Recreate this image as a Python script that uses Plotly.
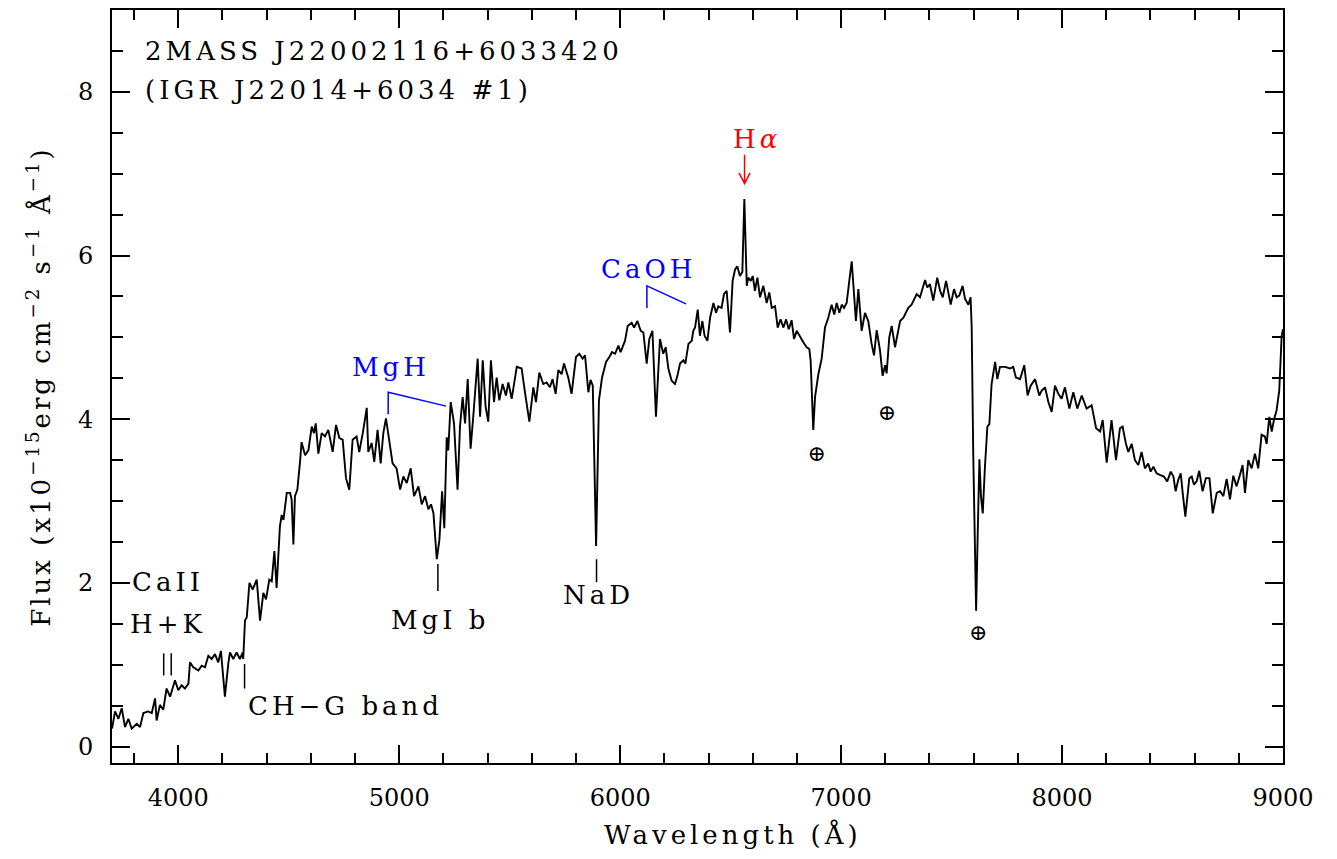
import plotly.graph_objects as go

# Optical spectrum of 2MASS J22002116+6033420
wavelength = [
    3700, 3714, 3729, 3744, 3759, 3774, 3789, 3812, 3827, 3842, 3864, 3880, 3895, 3902, 3917,
    3932, 3947, 3963, 3985, 4000, 4015, 4030, 4046, 4053, 4068, 4091, 4106, 4121, 4136, 4151,
    4166, 4181, 4193, 4211, 4227, 4234, 4249, 4264, 4279, 4291, 4294, 4302, 4310, 4322, 4337,
    4355, 4370, 4385, 4397, 4412, 4423, 4435, 4445, 4460, 4468, 4476, 4491, 4506, 4513, 4521,
    4528, 4539, 4551, 4558, 4574, 4589, 4604, 4614, 4622, 4634, 4649, 4664, 4679, 4699, 4714,
    4729, 4744, 4759, 4774, 4789, 4807, 4819, 4835, 4853, 4860, 4875, 4887, 4902, 4916, 4928,
    4940, 4955, 4970, 4988, 5004, 5019, 5034, 5052, 5067, 5087, 5102, 5117, 5132, 5144, 5155,
    5170, 5182, 5194, 5204, 5215, 5222, 5233, 5248, 5264, 5275, 5287, 5298, 5310, 5323, 5335,
    5355, 5366, 5378, 5391, 5403, 5415, 5429, 5441, 5453, 5468, 5483, 5494, 5509, 5532, 5554,
    5569, 5589, 5607, 5619, 5634, 5652, 5667, 5682, 5694, 5708, 5720, 5735, 5746, 5765, 5780,
    5800, 5815, 5830, 5841, 5856, 5866, 5876, 5891, 5904, 5918, 5936, 5951, 5963, 5977, 5992,
    6002, 6022, 6034, 6052, 6063, 6078, 6093, 6105, 6120, 6132, 6146, 6162, 6180, 6195, 6206,
    6218, 6233, 6248, 6259, 6271, 6286, 6295, 6309, 6324, 6331, 6339, 6351, 6361, 6372, 6382,
    6395, 6407, 6422, 6434, 6444, 6459, 6470, 6482, 6497, 6509, 6520, 6530, 6542, 6553, 6562,
    6573, 6580, 6591, 6600, 6610, 6621, 6633, 6648, 6663, 6675, 6686, 6701, 6713, 6726, 6739,
    6751, 6763, 6776, 6787, 6799, 6811, 6829, 6844, 6856, 6862, 6874, 6882, 6897, 6912, 6927,
    6942, 6957, 6969, 6980, 6992, 7003, 7013, 7025, 7037, 7048, 7067, 7078, 7093, 7108, 7123,
    7138, 7149, 7161, 7176, 7188, 7199, 7206, 7218, 7229, 7244, 7267, 7282, 7304, 7319, 7342,
    7357, 7380, 7390, 7402, 7417, 7435, 7448, 7460, 7475, 7485, 7496, 7511, 7523, 7535, 7550,
    7561, 7576, 7586, 7591, 7598, 7611, 7618, 7626, 7633, 7641, 7651, 7662, 7671, 7681, 7697,
    7707, 7719, 7742, 7764, 7779, 7791, 7810, 7829, 7844, 7858, 7878, 7897, 7908, 7923, 7938,
    7953, 7968, 7983, 7998, 8013, 8033, 8051, 8069, 8089, 8111, 8134, 8154, 8172, 8184, 8202,
    8224, 8244, 8262, 8274, 8289, 8300, 8315, 8330, 8345, 8360, 8375, 8390, 8401, 8413, 8428,
    8443, 8461, 8476, 8492, 8504, 8514, 8526, 8537, 8546, 8558, 8576, 8587, 8597, 8609, 8621,
    8636, 8651, 8667, 8682, 8700, 8715, 8730, 8745, 8760, 8775, 8790, 8805, 8817, 8828, 8843,
    8858, 8873, 8888, 8903, 8918, 8926, 8938, 8949, 8959, 8971, 8983, 8994, 9000,
]

flux = [
    0.22, 0.43, 0.34, 0.47, 0.24, 0.34, 0.22, 0.28, 0.24, 0.41, 0.43, 0.41, 0.59, 0.32, 0.51,
    0.45, 0.71, 0.61, 0.81, 0.69, 0.75, 0.71, 0.77, 1.03, 0.97, 0.93, 0.99, 0.97, 1.11, 1.07,
    1.13, 1.03, 1.17, 0.61, 1.03, 1.15, 1.07, 1.15, 1.07, 1.15, 1.07, 1.54, 1.58, 2.00, 1.92,
    2.04, 1.54, 1.88, 1.80, 2.04, 2.02, 2.39, 1.94, 2.69, 2.83, 2.77, 3.10, 3.10, 3.02, 2.47,
    3.06, 3.14, 3.48, 3.72, 3.56, 3.62, 3.91, 3.83, 3.95, 3.58, 3.83, 3.79, 3.87, 3.60, 3.93,
    3.77, 3.75, 3.28, 3.14, 3.75, 3.79, 3.60, 3.83, 4.14, 3.60, 3.71, 3.48, 3.87, 3.46, 3.83,
    4.01, 3.71, 3.46, 3.40, 3.14, 3.30, 3.22, 3.40, 3.06, 3.18, 2.96, 3.06, 2.90, 2.96, 2.85,
    2.29, 2.53, 3.12, 2.67, 3.78, 3.62, 4.21, 3.95, 3.14, 3.91, 4.27, 3.95, 4.49, 3.64, 4.03,
    4.74, 4.03, 4.72, 4.15, 3.97, 4.72, 4.21, 4.51, 4.23, 4.43, 4.29, 4.45, 4.25, 4.64, 4.62,
    4.33, 3.97, 4.39, 4.21, 4.57, 4.43, 4.45, 4.39, 4.49, 4.31, 4.60, 4.55, 4.68, 4.51, 4.31,
    4.76, 4.80, 4.74, 4.78, 4.33, 4.48, 4.41, 2.45, 4.23, 4.51, 4.70, 4.76, 4.82, 4.80, 4.90,
    4.82, 4.96, 5.14, 5.18, 5.12, 5.20, 5.08, 5.06, 4.68, 4.98, 5.08, 4.03, 4.98, 4.80, 4.88,
    4.62, 4.47, 4.43, 4.53, 4.68, 4.72, 4.68, 4.92, 4.96, 5.08, 5.12, 5.34, 5.02, 5.20, 5.02,
    4.96, 5.24, 5.42, 5.30, 5.38, 5.36, 5.53, 5.57, 5.06, 5.69, 5.83, 5.87, 5.75, 5.80, 6.69,
    5.63, 5.73, 5.69, 5.75, 5.57, 5.73, 5.49, 5.63, 5.42, 5.55, 5.36, 5.38, 5.12, 5.22, 5.12,
    5.22, 5.10, 5.21, 4.98, 5.08, 5.02, 4.94, 4.88, 4.86, 4.72, 3.87, 4.27, 4.55, 4.74, 5.12,
    5.24, 5.40, 5.28, 5.42, 5.30, 5.40, 5.36, 5.42, 5.69, 5.93, 5.20, 5.59, 5.08, 5.30, 5.20,
    4.92, 4.78, 5.09, 4.84, 4.53, 4.66, 4.56, 5.00, 5.14, 4.88, 5.20, 5.24, 5.36, 5.40, 5.53,
    5.49, 5.70, 5.61, 5.65, 5.45, 5.73, 5.57, 5.49, 5.69, 5.53, 5.40, 5.59, 5.49, 5.51, 5.63,
    5.47, 5.40, 5.49, 5.12, 3.58, 1.66, 2.57, 3.51, 3.06, 2.85, 3.42, 3.91, 3.94, 4.43, 4.70,
    4.49, 4.64, 4.64, 4.62, 4.64, 4.51, 4.49, 4.66, 4.29, 4.41, 4.49, 4.29, 4.35, 4.39, 4.21,
    4.09, 4.41, 4.31, 4.25, 4.39, 4.13, 4.33, 4.13, 4.29, 4.13, 4.17, 3.89, 3.85, 3.99, 3.47,
    3.99, 3.50, 3.89, 3.91, 3.70, 3.60, 3.70, 3.50, 3.44, 3.60, 3.40, 3.46, 3.36, 3.42, 3.34,
    3.32, 3.30, 3.24, 3.36, 3.30, 3.12, 3.26, 3.34, 3.10, 2.81, 3.28, 3.30, 3.20, 3.24, 3.37,
    3.12, 3.28, 3.28, 2.85, 3.10, 3.12, 3.06, 3.27, 3.02, 3.31, 3.18, 3.32, 3.44, 3.10, 3.50,
    3.40, 3.58, 3.40, 3.81, 3.79, 3.70, 4.03, 3.85, 3.99, 4.11, 4.35, 5.02, 5.10,
]

# Axis limits and ticks
x_range = [3700, 9000]
y_range = [-0.2, 9]
x_ticks = [4000, 5000, 6000, 7000, 8000, 9000]
y_ticks = [0, 2, 4, 6, 8]

# Line identifications (rest wavelengths, Angstrom)
ca_hk_lines = [3934, 3968]
ch_gband = 4300
mg_b = 5175
na_d = 5893
h_alpha = 6563
# Telluric absorption markers
telluric_x = [6890, 7208, 7620]
telluric_y = [3.56, 4.06, 1.37]

FONT = "DejaVu Serif"
BLACK = "#000000"
BLUE = "#0000ff"
RED = "#ff0000"

fig = go.Figure()
fig.add_trace(go.Scatter(
    x=wavelength, y=flux, mode="lines",
    line=dict(color=BLACK, width=1.9), hoverinfo="skip", showlegend=False,
))

# Earth symbols for telluric bands
fig.add_trace(go.Scatter(
    x=telluric_x, y=telluric_y, mode="text", text=["\u2295"] * len(telluric_x),
    textfont=dict(family=FONT, size=22, color=BLACK), hoverinfo="skip", showlegend=False,
))

shapes = []

def vline(x, y0, y1, color=BLACK, width=1.5):
    shapes.append(dict(type="line", xref="x", yref="y", x0=x, x1=x, y0=y0, y1=y1,
                       line=dict(color=color, width=width)))

for w in ca_hk_lines:
    vline(w, 0.87, 1.14)
vline(ch_gband, 0.71, 1.01)
vline(mg_b, 1.90, 2.23)
vline(na_d, 2.01, 2.29)

# Molecular band brackets
def bracket(x0, x1, y_low, y_top, y_end, color):
    shapes.append(dict(type="path", xref="x", yref="y",
                       path=f"M {x0},{y_low} L {x0},{y_top} L {x1},{y_end}",
                       line=dict(color=color, width=1.5)))

bracket(4950, 5212, 4.06, 4.33, 4.16, BLUE)
bracket(6121, 6298, 5.36, 5.63, 5.41, BLUE)

# Downward arrow marking H-alpha emission
shapes.append(dict(
    type="path", xref="x", yref="y",
    path=(f"M {h_alpha},7.23 L {h_alpha},6.88 "
          f"M {h_alpha - 25},7.01 L {h_alpha},6.88 L {h_alpha + 25},7.01"),
    line=dict(color=RED, width=1.5),
))

annotations = []

def label(text, x, y, color=BLACK, size=26, xanchor="center"):
    annotations.append(dict(text=text, x=x, y=y, xref="x", yref="y", showarrow=False,
                            xanchor=xanchor, yanchor="middle",
                            align="left" if xanchor == "left" else "center",
                            font=dict(family=FONT, size=size, color=color)))

label("2MASS J22002116+6033420", 3840, 8.50, xanchor="left")
label("(IGR J22014+6034 #1)", 3840, 8.02, xanchor="left")
label("CaII", 3953, 2.01)
label("H+K", 3953, 1.50)
label("CH\u2212G band", 4308, 0.50, xanchor="left")
label("MgI b", 5185, 1.55)
label("NaD", 5900, 1.85)
label("MgH", 4962, 4.64, color=BLUE)
label("CaOH", 6128, 5.83, color=BLUE)
label("H<i>\u03b1</i>", 6620, 7.42, color=RED)

# x-axis title
annotations.append(dict(
    text="Wavelength (\u00c5)", x=0.53, y=-0.095, xref="paper", yref="paper",
    showarrow=False, xanchor="center", yanchor="middle",
    font=dict(family=FONT, size=26, color=BLACK),
))

fig.update_layout(
    width=1337, height=859,
    margin=dict(l=112, r=54, t=8, b=96),
    paper_bgcolor="white", plot_bgcolor="white",
    font=dict(family=FONT, size=24, color=BLACK),
    shapes=shapes, annotations=annotations,
    xaxis=dict(
        range=x_range, tickvals=x_ticks, ticks="inside", ticklen=18, tickwidth=1.5,
        tickcolor=BLACK, showline=True, linewidth=2, linecolor=BLACK, mirror="allticks",
        showgrid=False, zeroline=False, ticklabelstandoff=12,
        tickfont=dict(family=FONT, size=24),
        minor=dict(dtick=200, tick0=0, ticks="inside", ticklen=10, tickwidth=1.5,
                   tickcolor=BLACK, showgrid=False),
    ),
    yaxis=dict(
        range=y_range, tickvals=y_ticks, ticks="inside", ticklen=18, tickwidth=1.5,
        tickcolor=BLACK, showline=True, linewidth=2, linecolor=BLACK, mirror="allticks",
        showgrid=False, zeroline=False, ticklabelstandoff=12,
        tickfont=dict(family=FONT, size=24),
        minor=dict(dtick=0.5, tick0=0, ticks="inside", ticklen=11, tickwidth=1.5,
                   tickcolor=BLACK, showgrid=False),
        title=dict(
            text="Flux (x10<sup>\u221215</sup>erg cm<sup>\u22122</sup> s<sup>\u22121</sup> \u00c5<sup>\u22121</sup>)",
            font=dict(family=FONT, size=26), standoff=20,
        ),
    ),
)

# Wide letter spacing for labels and titles
spacing_css = (
    "var s=document.createElement('style');"
    "s.textContent='.annotation-text{letter-spacing:4px}.ytitle{letter-spacing:3px}';"
    "document.head.appendChild(s);"
)

fig.write_html("out.html", post_script=spacing_css)
